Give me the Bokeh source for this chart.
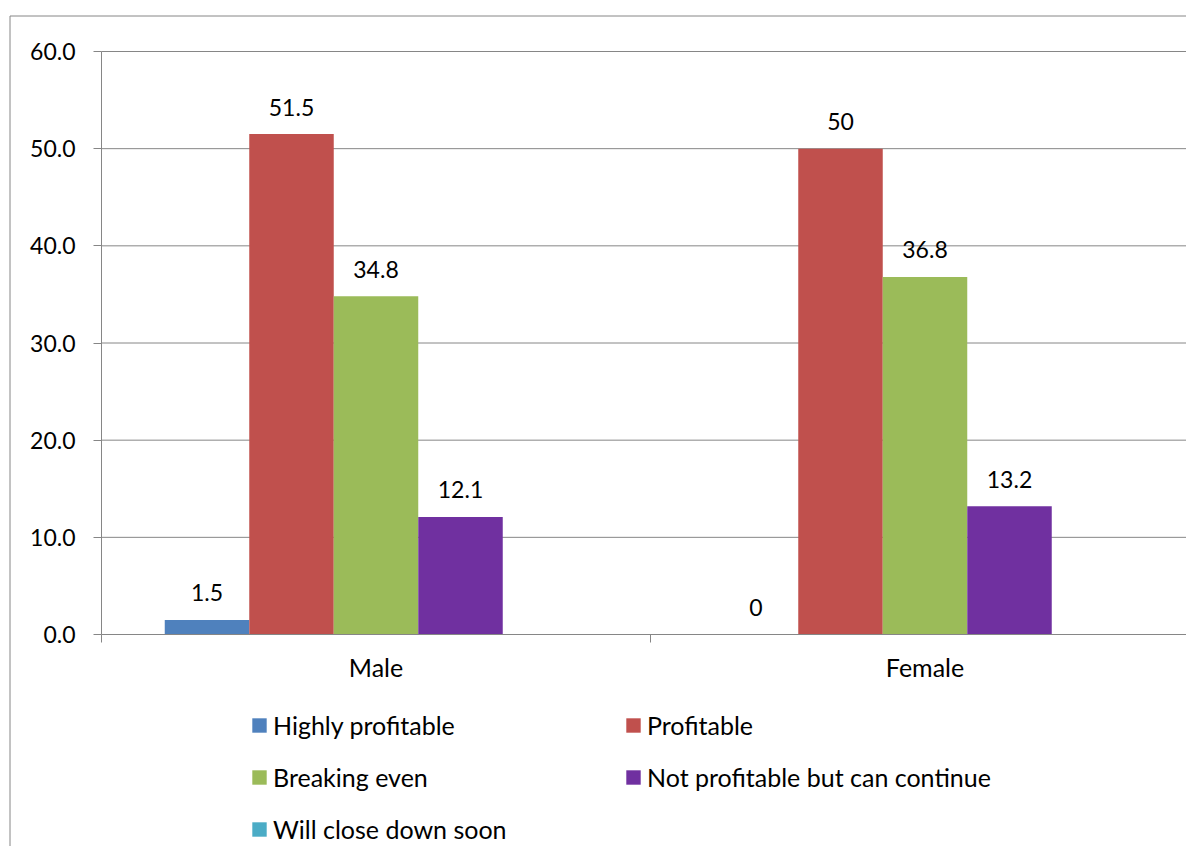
import math
from bokeh.plotting import figure
from bokeh.models import (ColumnDataSource, Range1d, FixedTicker, Legend, LegendItem,
                          LinearAxis)
from bokeh.core.properties import value
from bokeh.embed import file_html
from bokeh.resources import INLINE

# ---------------- data ----------------
categories = ["Male", "Female"]
series_names = ["Highly profitable", "Profitable", "Breaking even",
                "Not profitable but can continue", "Will close down soon"]
highly_profitable = [1.5, 0]
profitable = [51.5, 50]
breaking_even = [34.8, 36.8]
not_profitable_continue = [12.1, 13.2]
will_close_down = [None, None]
y_ticks = [0, 10, 20, 30, 40, 50, 60]
y_tick_labels = ["0.0", "10.0", "20.0", "30.0", "40.0", "50.0", "60.0"]

series_values = [highly_profitable, profitable, breaking_even,
                 not_profitable_continue, will_close_down]
colors = ["#4F81BD", "#C0504D", "#9BBB59", "#7030A0", "#4BACC6"]

FONT = "Lato"
FS_NUM = "23px"
FS_TXT = "25px"
GRAY = "#868686"

# ---------------- layout geometry (pixels) ----------------
W, H = 1186, 846
axis_x_px = 101          # pixel column of the value axis
axis_top_px = 51         # pixel row of the top value (60)
axis_zero_px = 634       # pixel row of value 0
border_x_px = 9.5        # chart-area border, left edge
border_y_px = 15.5       # chart-area border, top edge
cat_w = 549              # pixel width of one category
ppu_y = (axis_zero_px - axis_top_px) / (y_ticks[-1] - y_ticks[0])
x_start = -axis_x_px / cat_w
x_end = (W - axis_x_px) / cat_w
y_top = y_ticks[-1] + axis_top_px / ppu_y
y_bottom = y_ticks[0] - (H - axis_zero_px) / ppu_y

p = figure(width=W, height=H,
           x_range=Range1d(x_start, x_end), y_range=Range1d(y_bottom, y_top),
           output_backend="svg", toolbar_location=None, tools="",
           x_axis_location=None, y_axis_location=None,
           min_border=0, min_border_left=0, min_border_right=0,
           min_border_top=0, min_border_bottom=0)
p.outline_line_color = None
p.background_fill_color = "white"
p.border_fill_color = "white"
p.xgrid.visible = False
p.ygrid.visible = False

# chart-area border (left and top edges visible in the picture)
bx = x_start + border_x_px / cat_w
by = y_top - border_y_px / ppu_y
p.segment(x0=[bx, bx], y0=[y_bottom, by], x1=[bx, x_end], y1=[by, by],
          line_color=GRAY, line_width=1)

# horizontal gridlines over the plot area
grid_y = y_ticks[1:]
p.segment(x0=[0] * len(grid_y), y0=grid_y, x1=[x_end] * len(grid_y), y1=grid_y,
          line_color=GRAY, line_width=1)

# y axis at x = 0 (line only from 0 to 60)
yaxis = LinearAxis(fixed_location=0, bounds=(y_ticks[0], y_ticks[-1]),
                   ticker=FixedTicker(ticks=y_ticks),
                   major_label_overrides={t: l for t, l in zip(y_ticks, y_tick_labels)},
                   axis_line_color=GRAY,
                   major_tick_line_color=GRAY, major_tick_out=8, major_tick_in=0,
                   minor_tick_line_color=None,
                   major_label_standoff=18,
                   major_label_text_font=FONT, major_label_text_font_size=FS_NUM,
                   major_label_text_color="black")
p.add_layout(yaxis, "left")

# x axis at value 0: labels at category centres, tick marks at category boundaries
n_cat = len(categories)
xaxis = LinearAxis(fixed_location=y_ticks[0], bounds=(0, x_end),
                   ticker=FixedTicker(ticks=[i + 0.5 for i in range(n_cat)],
                                      minor_ticks=list(range(n_cat + 1))),
                   major_label_overrides={i + 0.5: c for i, c in enumerate(categories)},
                   axis_line_color=GRAY,
                   major_tick_line_color=None, major_tick_out=0, major_tick_in=0,
                   minor_tick_line_color=GRAY, minor_tick_out=8, minor_tick_in=0,
                   major_label_standoff=9,
                   major_label_text_font=FONT, major_label_text_font_size=FS_TXT,
                   major_label_text_color="black")
p.add_layout(xaxis, "below")

# ---------------- bars ----------------
bar_w = 84.5 / cat_w
n_ser = len(series_names)
renderers = []
for i, (name, vals, col) in enumerate(zip(series_names, series_values, colors)):
    xs = [c + 0.5 + (i - (n_ser - 1) / 2) * bar_w for c in range(n_cat)]
    tops = [math.nan if v is None else v for v in vals]
    src = ColumnDataSource(dict(x=xs, top=tops))
    r = p.vbar(x="x", top="top", bottom=0, width=bar_w, source=src,
               fill_color=col, line_color=None)
    renderers.append(r)
    lx = [x for x, v in zip(xs, vals) if v is not None]
    ly = [v for v in vals if v is not None]
    lt = [f"{v:g}" for v in vals if v is not None]
    if lx:
        lsrc = ColumnDataSource(dict(x=lx, y=ly, t=lt))
        p.text(x="x", y="y", text="t", source=lsrc, text_align="center",
               text_baseline="alphabetic", y_offset=-27,
               text_font=value(FONT), text_font_size=FS_NUM, text_color="black")

# ---------------- legend (two columns, row by row) ----------------
legend_top_px = 710
def make_legend(idx, x_px):
    n = len(idx)
    leg_h = n * 30 + (n - 1) * 22
    y = H - (legend_top_px + leg_h)
    return Legend(items=[LegendItem(label=series_names[k], renderers=[renderers[k]]) for k in idx],
                  location=(x_px, y), orientation="vertical",
                  glyph_width=18, glyph_height=18, label_standoff=5,
                  label_text_font=FONT, label_text_font_size=FS_TXT, label_text_color="black",
                  label_height=30, spacing=22, padding=0, margin=0,
                  border_line_color=None, background_fill_alpha=0)

p.add_layout(make_legend([0, 2, 4], 250))
p.add_layout(make_legend([1, 3], 624))

open("out.html", "w").write(file_html(p, INLINE))
